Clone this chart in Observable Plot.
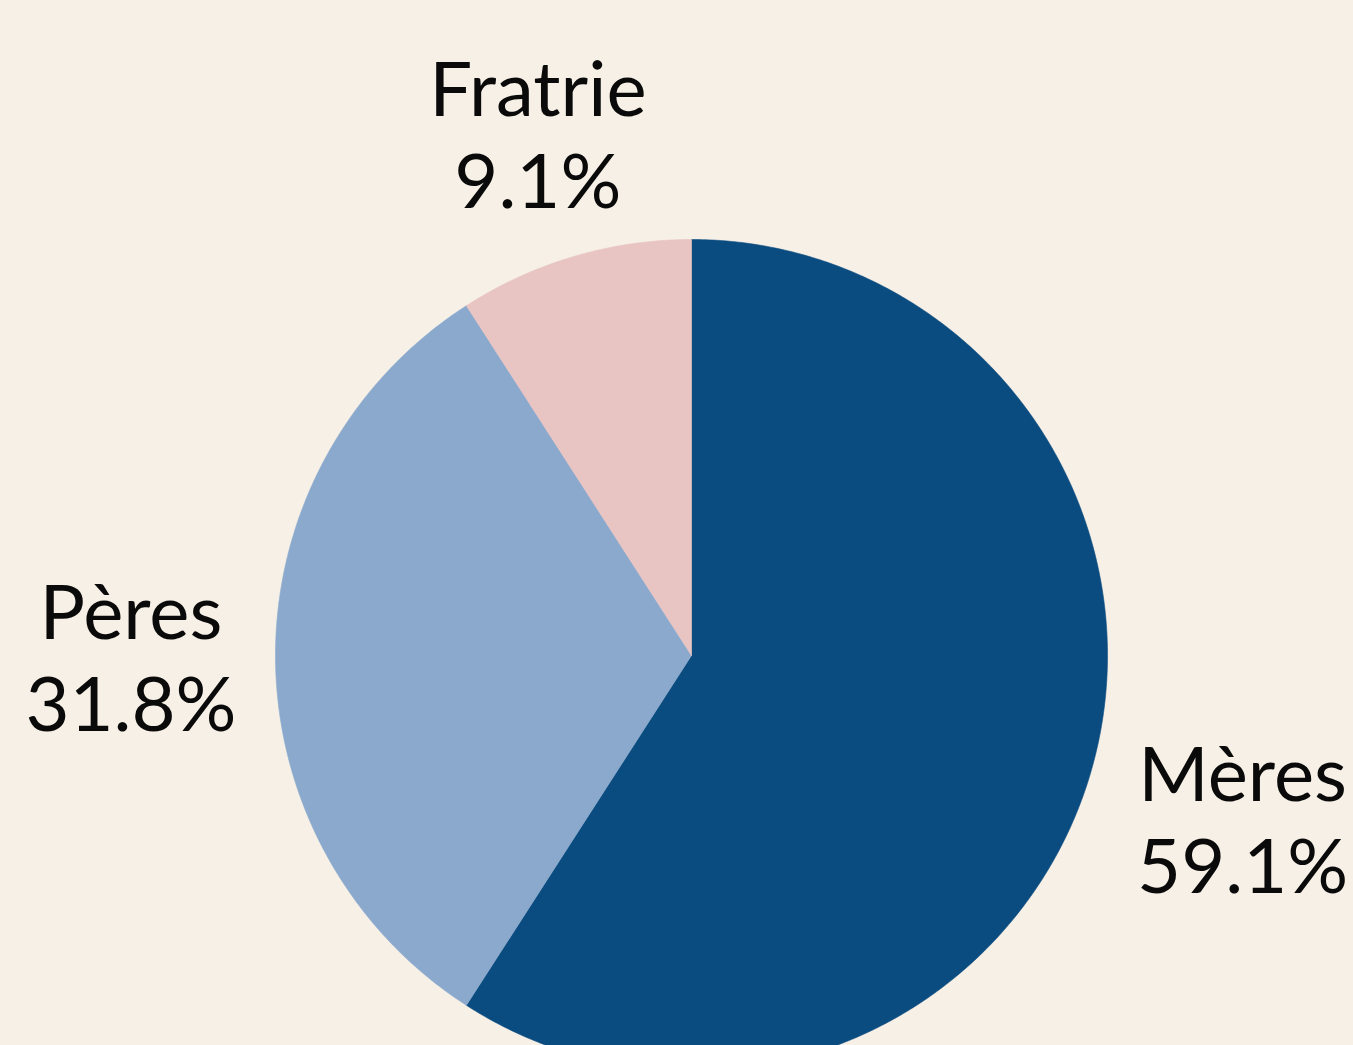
<!DOCTYPE html>
<html>
<head>
<meta charset="utf-8">
<script src="https://cdn.jsdelivr.net/npm/d3@7"></script>
<script src="https://cdn.jsdelivr.net/npm/@observablehq/plot@0.6"></script>
<style>
  html, body { margin: 0; padding: 0; background: #f7f0e6; }
  #chart svg { display: block; }
</style>
</head>
<body>
<div id="chart"></div>
<script>
const categories = ["Mères", "Pères", "Fratrie"];
const values = [59.1, 31.8, 9.1];
const colors = ["#0b4c80", "#8aa9cd", "#e8c4c3"];

const W = 1353, H = 1045;
const cx = 691, cy = 655, radius = 416;
const fontSize = 76, lineHeight = 1.21;
const fontFamily = "Lato, 'Open Sans', sans-serif";
const labelClear = 455, halfH = 70;

const ctx = document.createElement("canvas").getContext("2d");
ctx.font = `${fontSize}px ${fontFamily}`;

const pie = d3.pie().sort(null).value((d, i) => values[i])(categories);

const slicePts = [];
const labels = [];
pie.forEach((p, i) => {
  const cat = categories[i];
  slicePts.push({cat, x: 0, y: 0});
  const n = Math.max(2, Math.ceil((p.endAngle - p.startAngle) / (Math.PI / 360)));
  for (let k = 0; k <= n; k++) {
    const a = p.startAngle + (p.endAngle - p.startAngle) * k / n;
    slicePts.push({cat, x: radius * Math.sin(a), y: -radius * Math.cos(a)});
  }
  slicePts.push({cat, x: 0, y: 0});

  // label: along the mid-angle ray, pushed out until its box clears the pie
  const text = `${cat}\n${values[i].toFixed(1)}%`;
  const hw = d3.max(text.split("\n"), s => ctx.measureText(s).width) / 2;
  const mid = (p.startAngle + p.endAngle) / 2;
  const dx = Math.sin(mid), dy = -Math.cos(mid);
  const dist = t => {
    const bx = dx * t, by = dy * t;
    const nx = Math.max(0, Math.abs(bx) - hw), ny = Math.max(0, Math.abs(by) - halfH);
    return Math.hypot(nx, ny);
  };
  let lo = 0, hi = 2000;
  for (let k = 0; k < 60; k++) { const m = (lo + hi) / 2; if (dist(m) < labelClear) lo = m; else hi = m; }
  labels.push({cat, text, x: dx * lo, y: dy * lo});
});

const chart = Plot.plot({
  width: W,
  height: H,
  margin: 0,
  style: {background: "#f7f0e6", fontFamily},
  x: {domain: [-cx, W - cx], range: [0, W], axis: null},
  y: {domain: [-cy, H - cy], range: [0, H], axis: null},
  color: {domain: categories, range: colors},
  marks: [
    Plot.line(slicePts, {x: "x", y: "y", z: "cat", fill: "cat", stroke: "cat", strokeWidth: 0.6, curve: "linear"}),
    Plot.text(labels, {
      x: "x", y: "y", text: "text",
      fontSize, lineHeight, fill: "#0a0a0a",
      textAnchor: "middle", lineAnchor: "middle"
    })
  ]
});
document.getElementById("chart").appendChild(chart);
</script>
</body>
</html>
